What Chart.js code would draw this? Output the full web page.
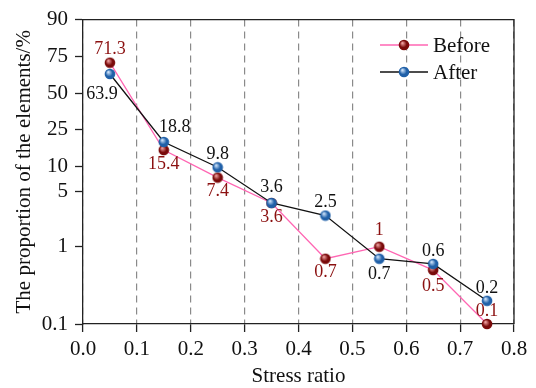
<!DOCTYPE html>
<html>
<head>
<meta charset="utf-8">
<script src="https://cdn.jsdelivr.net/npm/chart.js@4"></script>
<style>
  html, body { margin: 0; padding: 0; background: #fff; }
  #wrap { width: 536px; height: 388px; }
</style>
</head>
<body>
<div id="wrap"><canvas id="stressChart"></canvas></div>
<script>
const stressRatio = [0.05, 0.15, 0.25, 0.35, 0.45, 0.55, 0.65, 0.75];
const beforeVals = [71.3, 15.4, 7.4, 3.6, 0.7, 1, 0.5, 0.1];
const afterVals = [63.9, 18.8, 9.8, 3.6, 2.5, 0.7, 0.6, 0.2];
const yTickVals = [0.1, 1, 5, 10, 25, 50, 75, 90];

// where each value label sits relative to its point
const beforeLabelPos = ['up', 'down', 'down', 'down', 'down', 'uphigh', 'downlow', 'up'];
const afterLabelPos = ['downleft', 'upright', 'up', 'uphigh', 'up', 'downlow', 'up', 'up'];

const serif = 'Liberation Serif';

// y axis is a logit (probability) scale, so map percent -> logit
const logit = p => Math.log(p / (100 - p));

function ball(base, light) {
    const c = document.createElement('canvas');
    c.width = c.height = 12;
    const g = c.getContext('2d');
    const grad = g.createRadialGradient(4.3, 4.0, 0.4, 6, 6, 6);
    grad.addColorStop(0, light);
    grad.addColorStop(0.55, base);
    grad.addColorStop(1, base);
    g.fillStyle = grad;
    g.beginPath();
    g.arc(6, 6, 5.3, 0, Math.PI * 2);
    g.fill();
    return c;
}

const redBall = ball('#7a0a0a', '#f0a0a0');
const blueBall = ball('#2060a8', '#cfe4fb');

const offsets = {
    up: [0, -13],
    uphigh: [0, -16],
    down: [0, 14],
    downlow: [0, 16],
    downleft: [-8, 20],
    upright: [11, -15]
};

const valueLabels = {
    id: 'valueLabels',
    afterDatasetsDraw(chart) {
        const ctx = chart.ctx;
        ctx.save();
        ctx.font = '18px "' + serif + '"';
        ctx.textAlign = 'center';
        ctx.textBaseline = 'middle';
        chart.data.datasets.forEach((ds, di) => {
            const meta = chart.getDatasetMeta(di);
            meta.data.forEach((pt, i) => {
                const o = offsets[ds.labelPos[i]];
                ctx.fillStyle = ds.labelColor;
                ctx.fillText(String(ds.raw[i]), pt.x + o[0], pt.y + o[1]);
            });
        });
        ctx.restore();
    }
};

const frame = {
    id: 'frame',
    beforeDatasetsDraw(chart) {
        const a = chart.chartArea, ctx = chart.ctx;
        ctx.save();
        ctx.strokeStyle = '#222';
        ctx.lineWidth = 1.3;
        ctx.beginPath();
        ctx.moveTo(a.left, a.top);
        ctx.lineTo(a.right, a.top);
        ctx.lineTo(a.right, a.bottom);
        ctx.stroke();
        ctx.restore();
    }
};

const legendBox = {
    id: 'legendBox',
    afterDraw(chart) {
        const ctx = chart.ctx;
        ctx.save();
        ctx.font = '21px "' + serif + '"';
        ctx.textBaseline = 'middle';
        ctx.fillStyle = '#111';
        chart.data.datasets.forEach((ds, i) => {
            const y = 45 + i * 27;
            ctx.strokeStyle = ds.borderColor;
            ctx.lineWidth = 1.3;
            ctx.beginPath();
            ctx.moveTo(380, y);
            ctx.lineTo(428, y);
            ctx.stroke();
            ctx.drawImage(ds.pointStyle, 398, y - 6);
            ctx.fillText(ds.label, 433, y + 1);
        });
        ctx.restore();
    }
};

new Chart(document.getElementById('stressChart'), {
    type: 'line',
    data: {
        datasets: [{
            label: 'Before',
            raw: beforeVals,
            labelPos: beforeLabelPos,
            labelColor: '#8b1010',
            data: stressRatio.map((x, i) => ({ x: x, y: logit(beforeVals[i]) })),
            borderColor: '#ff66b3',
            borderWidth: 1.3,
            pointStyle: redBall,
            pointRadius: 6,
            tension: 0,
            clip: false,
            order: 2
        }, {
            label: 'After',
            raw: afterVals,
            labelPos: afterLabelPos,
            labelColor: '#111',
            data: stressRatio.map((x, i) => ({ x: x, y: logit(afterVals[i]) })),
            borderColor: '#111',
            borderWidth: 1.3,
            pointStyle: blueBall,
            pointRadius: 6,
            tension: 0,
            clip: false,
            order: 1
        }]
    },
    options: {
        responsive: true,
        maintainAspectRatio: false,
        animation: false,
        layout: { padding: { top: 16, right: 22, left: 0, bottom: 0 } },
        plugins: {
            legend: { display: false },
            tooltip: { enabled: false }
        },
        scales: {
            x: {
                type: 'linear',
                min: 0,
                max: 0.8,
                afterFit: s => { s.height = 64; },
                ticks: {
                    stepSize: 0.1,
                    color: '#111',
                    padding: 5,
                    font: { family: serif, size: 21 },
                    callback: v => v.toFixed(1)
                },
                grid: {
                    color: '#8a8a8a',
                    lineWidth: 1.2,
                    tickColor: '#222',
                    tickLength: 8,
                    tickWidth: 1.3
                },
                border: { color: '#222', width: 1.3, dash: [7, 5] },
                title: {
                    display: true,
                    text: 'Stress ratio',
                    color: '#111',
                    padding: { top: 0, bottom: -1 },
                    font: { family: serif, size: 21 }
                }
            },
            y: {
                type: 'linear',
                min: logit(0.1),
                max: logit(90),
                afterFit: s => { s.width = 83; },
                afterBuildTicks: s => {
                    s.ticks = yTickVals.map(v => ({ value: logit(v) }));
                },
                ticks: {
                    color: '#111',
                    padding: 7,
                    font: { family: serif, size: 21 },
                    callback: (v, i) => String(yTickVals[i])
                },
                grid: {
                    drawOnChartArea: false,
                    tickColor: '#222',
                    tickLength: 8,
                    tickWidth: 1.3
                },
                border: { color: '#222', width: 1.3 },
                title: {
                    display: true,
                    text: 'The proportion of the elements/%',
                    color: '#111',
                    padding: { top: 12, bottom: 0 },
                    font: { family: serif, size: 21 }
                }
            }
        }
    },
    plugins: [frame, valueLabels, legendBox]
});
</script>
</body>
</html>
